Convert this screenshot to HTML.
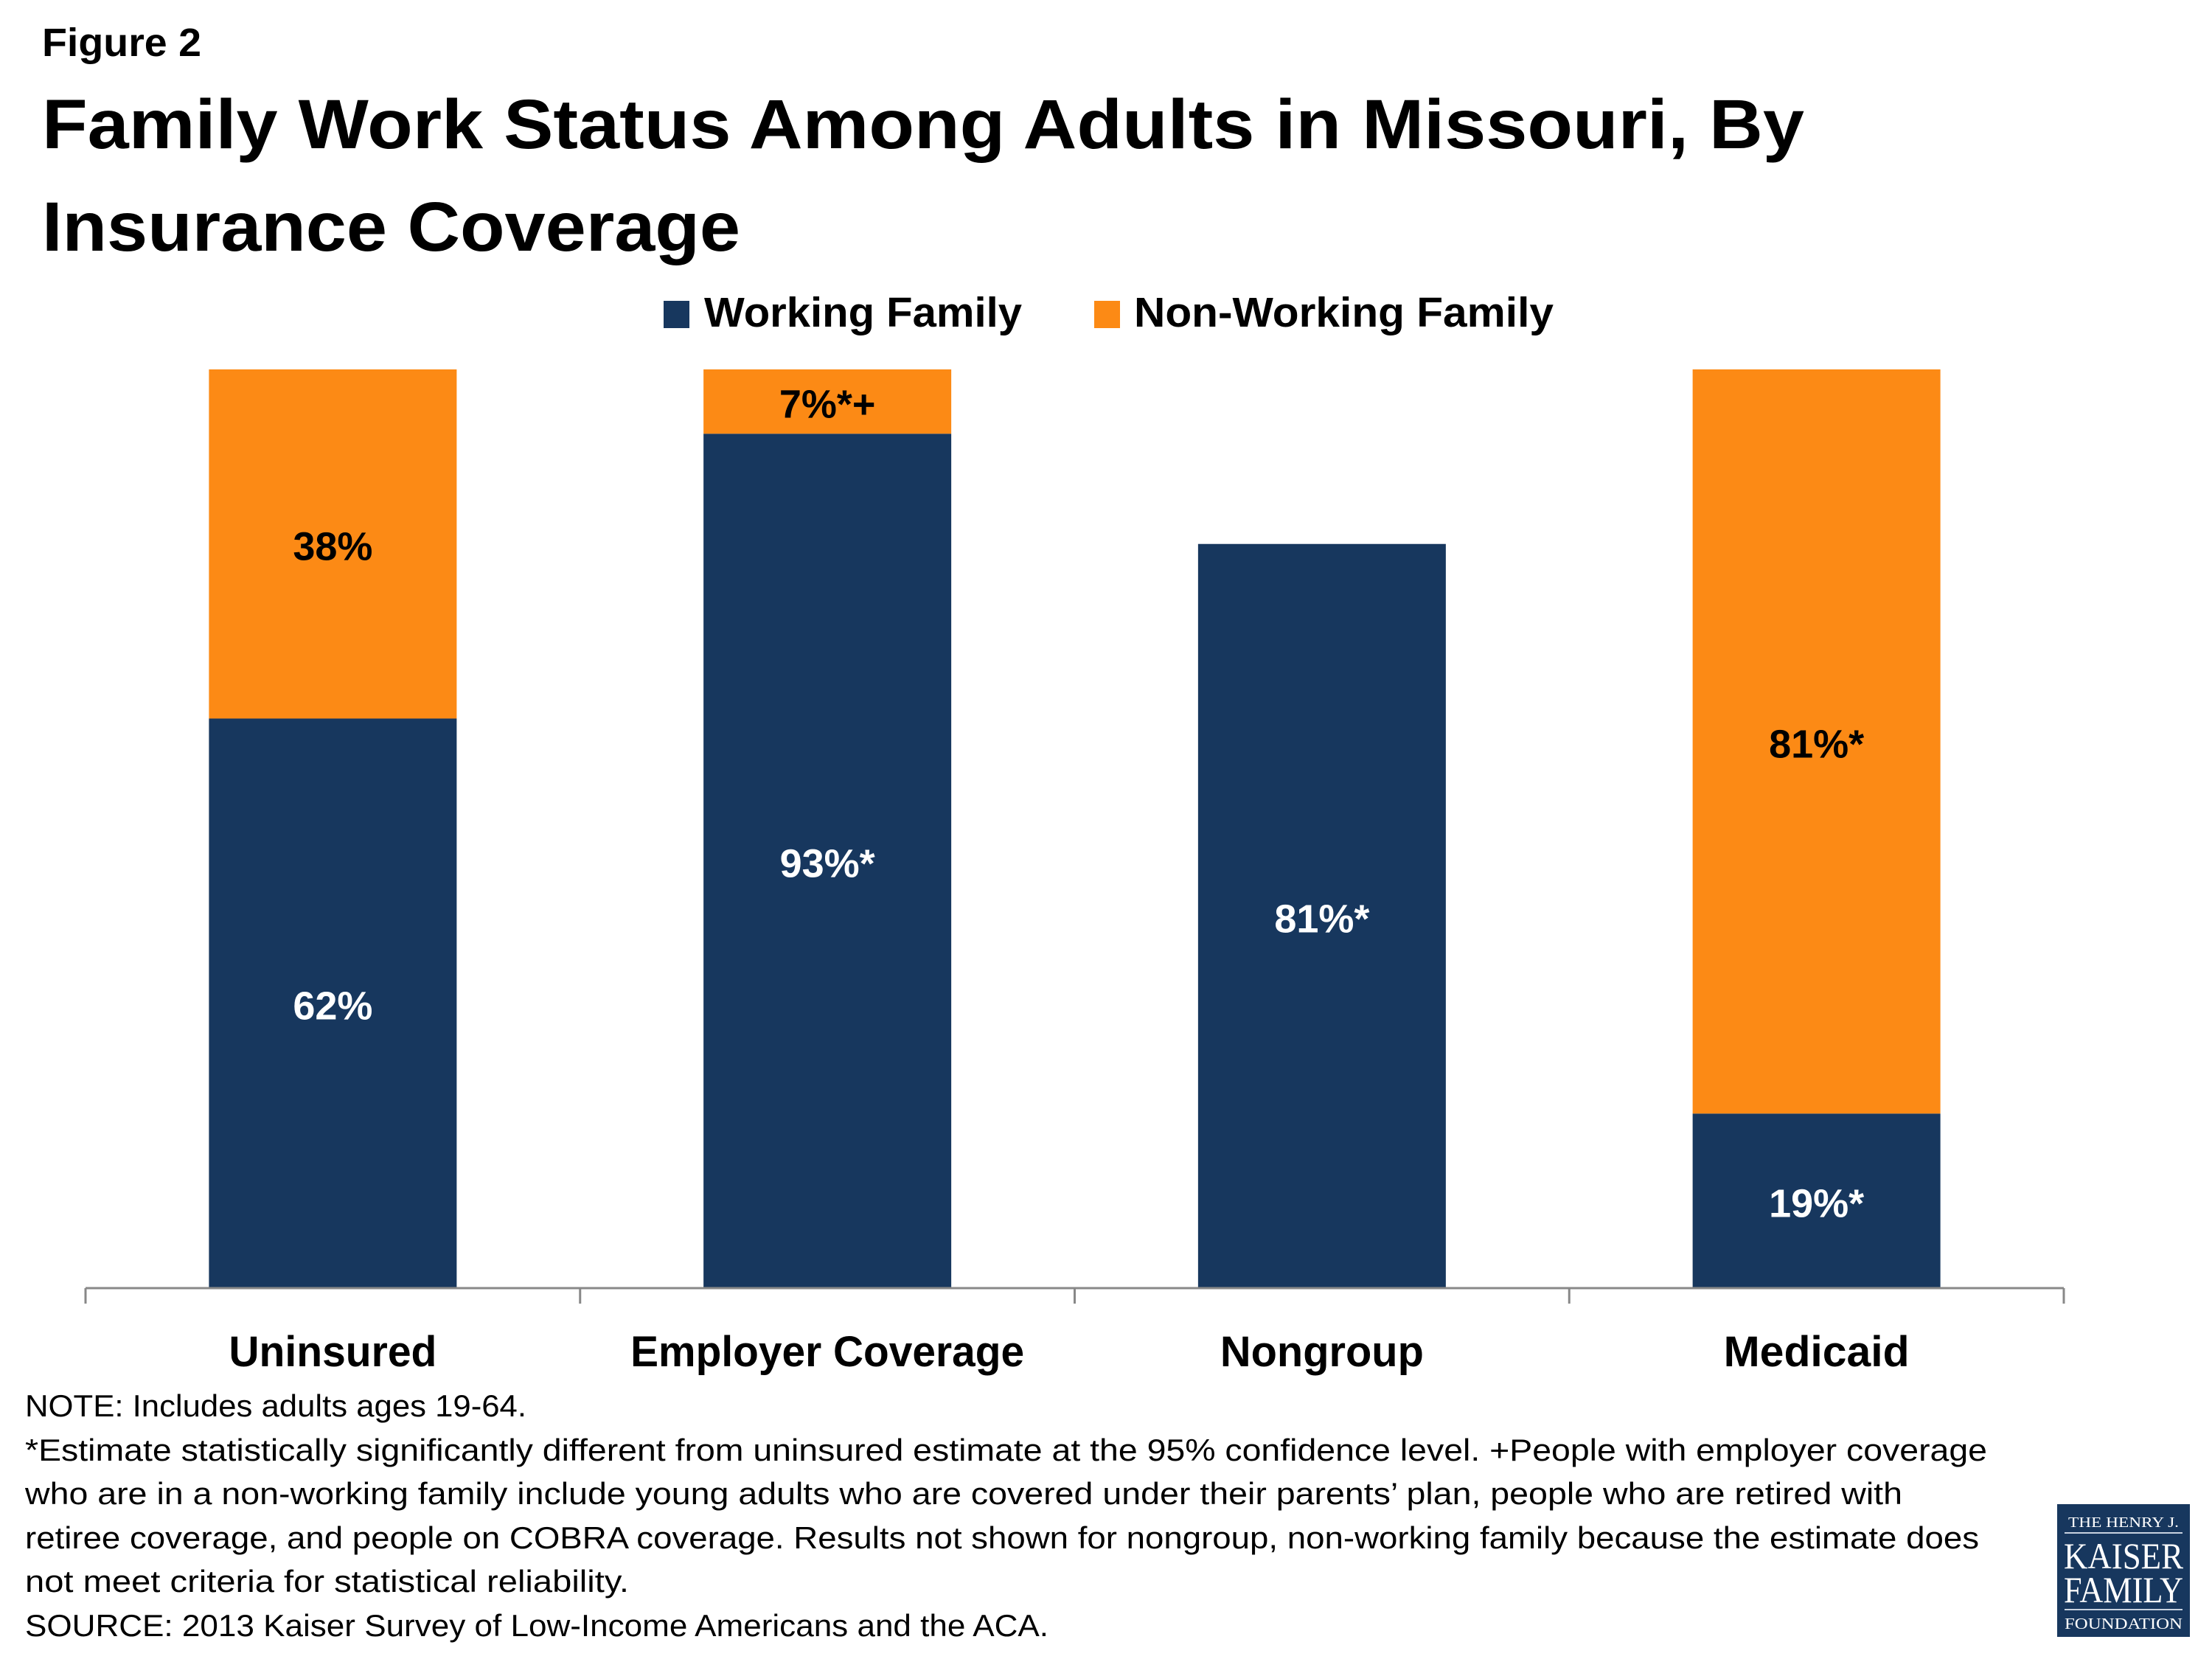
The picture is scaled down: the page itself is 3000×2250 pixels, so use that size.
<!DOCTYPE html>
<html><head><meta charset="utf-8"><style>html,body{margin:0;padding:0;background:#fff}svg{display:block}</style></head>
<body>
<svg id="chart" width="3000" height="2250" viewBox="0 0 3000 2250" xmlns="http://www.w3.org/2000/svg" font-family="'Liberation Sans', sans-serif">
<text x="57" y="76" font-size="54" font-weight="bold" textLength="216" lengthAdjust="spacingAndGlyphs">Figure 2</text>
<text x="57" y="201" font-size="95" font-weight="bold" textLength="2390" lengthAdjust="spacingAndGlyphs">Family Work Status Among Adults in Missouri, By</text>
<text x="57" y="340" font-size="95" font-weight="bold" textLength="947" lengthAdjust="spacingAndGlyphs">Insurance Coverage</text>
<g>
<rect x="900" y="408" width="35" height="37" fill="#17375E"/>
<text x="955" y="443" font-size="57" font-weight="bold" textLength="431" lengthAdjust="spacingAndGlyphs">Working Family</text>
<rect x="1484" y="408" width="35" height="37" fill="#FC8A15"/>
<text x="1538" y="443" font-size="57" font-weight="bold" textLength="569" lengthAdjust="spacingAndGlyphs">Non-Working Family</text>
</g>
<g id="bars"></g>
<g font-size="42">
<text x="34" y="1921" textLength="680" lengthAdjust="spacingAndGlyphs">NOTE: Includes adults ages 19-64.</text>
<text x="34" y="1981" textLength="2661" lengthAdjust="spacingAndGlyphs">*Estimate statistically significantly different from uninsured estimate at the 95% confidence level. +People with employer coverage</text>
<text x="34" y="2040" textLength="2546" lengthAdjust="spacingAndGlyphs">who are in a non-working family include young adults who are covered under their parents’ plan, people who are retired with</text>
<text x="34" y="2100" textLength="2650" lengthAdjust="spacingAndGlyphs">retiree coverage, and people on COBRA coverage. Results not shown for nongroup, non-working family because the estimate does</text>
<text x="34" y="2159" textLength="819" lengthAdjust="spacingAndGlyphs">not meet criteria for statistical reliability.</text>
<text x="34" y="2219" textLength="1388" lengthAdjust="spacingAndGlyphs">SOURCE: 2013 Kaiser Survey of Low-Income Americans and the ACA.</text>
</g>
<g font-family="'Liberation Serif', serif" fill="#fff" text-anchor="middle">
<rect x="2790" y="2040" width="180" height="180" fill="#17375E"/>
<text x="2880" y="2071" font-size="20" textLength="150" lengthAdjust="spacingAndGlyphs">THE HENRY J.</text>
<rect x="2800" y="2078" width="160" height="2" fill="#c8d2e0"/>
<text x="2880" y="2127" font-size="50" textLength="162" lengthAdjust="spacingAndGlyphs">KAISER</text>
<text x="2880" y="2173" font-size="50" textLength="162" lengthAdjust="spacingAndGlyphs">FAMILY</text>
<rect x="2800" y="2182" width="160" height="2" fill="#c8d2e0"/>
<text x="2880" y="2209" font-size="21" textLength="160" lengthAdjust="spacingAndGlyphs">FOUNDATION</text>
</g>
</svg>
<script>
const categories = ["Uninsured", "Employer Coverage", "Nongroup", "Medicaid"];
const working = [62, 93, 81, 19];
const nonWorking = [38, 7, null, 81];
const workingLabels = ["62%", "93%*", "81%*", "19%*"];
const nonWorkingLabels = ["38%", "7%*+", "", "81%*"];
const catWidths = [282, 534, 276, 252];

const NS = "http://www.w3.org/2000/svg";
const g = document.getElementById("bars");
const plotLeft = 116, plotRight = 2799, plotTop = 501, plotBottom = 1747;
const band = (plotRight - plotLeft) / categories.length;
const barW = 336;
const y = v => plotBottom - (v / 100) * (plotBottom - plotTop);
const xc = i => plotLeft + band * (i + 0.5);
function mk(tag, attrs) { const e = document.createElementNS(NS, tag); for (const k in attrs) e.setAttribute(k, attrs[k]); g.appendChild(e); return e; }

categories.forEach((c, i) => {
  const x0 = xc(i) - barW / 2;
  const w = working[i];
  const r1 = mk("rect", {x: x0, y: y(w), width: barW, height: y(0) - y(w), fill: "#17375E"});
  
  
  const t1 = mk("text", {x: xc(i), y: (y(w) + y(0)) / 2 + 22, "font-size": 54, "font-weight": "bold", fill: "#fff", "text-anchor": "middle"});
  t1.textContent = workingLabels[i];
  
  
  const n = nonWorking[i];
  if (n != null) {
    const r2 = mk("rect", {x: x0, y: y(w + n), width: barW, height: y(w) - y(w + n), fill: "#FC8A15"});
    
    
    const t2 = mk("text", {x: xc(i), y: (y(w) + y(w + n)) / 2 + 22, "font-size": 54, "font-weight": "bold", fill: "#000", "text-anchor": "middle"});
    t2.textContent = nonWorkingLabels[i];
    
    
  }
  const cl = mk("text", {x: xc(i), y: 1853, "font-size": 58, "font-weight": "bold", "text-anchor": "middle", textLength: catWidths[i], lengthAdjust: "spacingAndGlyphs"});
  cl.textContent = c;
  
  
});
const ax = mk("line", {x1: plotLeft, x2: plotRight, y1: plotBottom, y2: plotBottom, stroke: "#888", "stroke-width": 3});


for (let i = 0; i <= categories.length; i++) {
  const tk = mk("line", {x1: plotLeft + band * i, x2: plotLeft + band * i, y1: plotBottom, y2: plotBottom + 21, stroke: "#888", "stroke-width": 3});
  
  
}
</script>
</body></html>
